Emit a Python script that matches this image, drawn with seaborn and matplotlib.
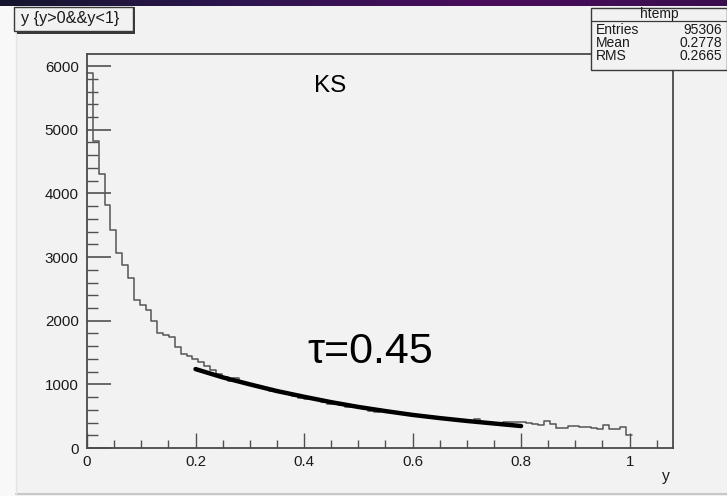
import numpy as np
import pandas as pd
import matplotlib
matplotlib.use("Agg")
import matplotlib.pyplot as plt
import seaborn as sns
from matplotlib.patches import Rectangle
from matplotlib.lines import Line2D
from matplotlib.colors import LinearSegmentedColormap
from matplotlib import font_manager

# ---------------- data ----------------
bin_width = 0.0108
counts = [5890, 4830, 4300, 3820, 3430, 3060, 2880, 2670, 2330, 2250,
          2170, 1990, 1800, 1775, 1750, 1590, 1475, 1445, 1400, 1355,
          1290, 1225, 1160, 1120, 1045, 1105, 1040, 1010, 985, 960,
          935, 890, 880, 860, 845, 815, 790, 770, 780, 755,
          720, 690, 700, 680, 650, 655, 640, 615, 580, 570,
          585, 575, 560, 545, 530, 520, 505, 480, 495, 480,
          470, 455, 445, 440, 430, 425, 455, 410, 405, 400,
          395, 405, 410, 410, 405, 390, 375, 365, 429, 372,
          309, 312, 346, 346, 335, 335, 320, 293, 360, 293,
          295, 335, 204]
fit_x = [0.20, 0.25, 0.30, 0.35, 0.40, 0.45, 0.50, 0.55, 0.60, 0.65, 0.70, 0.75, 0.80]
fit_y = [1240, 1110, 1000, 895, 805, 720, 645, 580, 520, 470, 425, 385, 345]
y_ticks = [0, 1000, 2000, 3000, 4000, 5000, 6000]
x_ticks = [0, 0.2, 0.4, 0.6, 0.8, 1.0]
x_tick_labels = ["0", "0.2", "0.4", "0.6", "0.8", "1"]
title_text = "y {y>0&&y<1}"
stats_name = "htemp"
stats_rows = [("Entries", "95306"), ("Mean", "0.2778"), ("RMS", "0.2665")]
label_ks = "KS"
label_tau = "τ=0.45"

n = len(counts)
edges = np.arange(n + 1) * bin_width
centers = (edges[:-1] + edges[1:]) / 2
df = pd.DataFrame({"y": centers, "w": counts})
fit_df = pd.DataFrame({"x": fit_x, "f": fit_y})

# ---------------- figure ----------------
sns.set_style("white")
plt.rcParams["font.family"] = ["Liberation Sans", "DejaVu Sans"]

installed = {f.name for f in font_manager.fontManager.ttflist}
narrow = "Liberation Sans Narrow" if "Liberation Sans Narrow" in installed else "Liberation Sans"
narrow_fam = [narrow, "DejaVu Sans"]
narrow_scale = 1.0 if narrow == "Liberation Sans Narrow" else 0.87

W, H = 727, 496
fig = plt.figure(figsize=(W / 100, H / 100), dpi=100)
fig.patch.set_facecolor("#f2f2f2")

def fx(px):
    return px / W

def fy(py):
    return 1 - py / H

# left margin strip and bottom line
fig.add_artist(Rectangle((0, 0), fx(16), 1, transform=fig.transFigure,
                         facecolor="#f8f8f8", edgecolor="none", zorder=0))
fig.add_artist(Line2D([fx(16), 1], [fy(494), fy(494)], transform=fig.transFigure,
                      color="#c8c8c8", lw=1.5, zorder=1))
fig.add_artist(Line2D([fx(16), fx(16)], [fy(8), fy(494)], transform=fig.transFigure,
                      color="#e4e4e4", lw=1.0, zorder=1))

# top gradient band
band = fig.add_axes([0, fy(6), 1, 6 / H])
grad = np.linspace(0, 1, 256)
cmap = LinearSegmentedColormap.from_list("band", ["#15152e", "#2e1650", "#4a0c5c", "#3a0e4e"])
band.imshow(grad[None, :], aspect="auto", cmap=cmap, extent=[0, 1, 0, 1])
band.set_axis_off()

ax = fig.add_axes([fx(87), fy(448), fx(673) - fx(87), fy(54) - fy(448)])
ax.set_facecolor("#f2f2f2")

sns.histplot(data=df, x="y", weights="w", binwidth=bin_width, binrange=(0, n * bin_width),
             element="step", fill=False, color="#555555", linewidth=1.1, ax=ax)
sns.lineplot(data=fit_df, x="x", y="f", color="black", linewidth=3.2, ax=ax)

ax.set_xlim(0, 1.08)
ax.set_ylim(0, 6190)
ax.set_xticks(x_ticks)
ax.set_xticklabels(x_tick_labels)
ax.set_yticks(y_ticks)
ax.set_yticklabels([str(v) for v in y_ticks])
ax.set_xticks(np.arange(0, 1.08, 0.05), minor=True)
ax.set_yticks(np.arange(0, 6190, 200), minor=True)
ax.tick_params(axis="y", which="major", direction="in", length=17, width=1.2,
               color="#505050", labelsize=12.5 * narrow_scale, pad=6, left=True)
ax.tick_params(axis="y", which="minor", direction="in", length=8, width=1.0,
               color="#505050", left=True)
ax.tick_params(axis="x", which="major", direction="in", length=11, width=1.0,
               color="#505050", labelsize=12.5 * narrow_scale, pad=5, bottom=True)
ax.tick_params(axis="x", which="minor", direction="in", length=6, width=1.0,
               color="#505050", bottom=True)
for s in ax.spines.values():
    s.set_color("#4a4a4a")
    s.set_linewidth(1.3)
ax.set_xlabel("")
ax.set_ylabel("")
for lab in ax.get_xticklabels() + ax.get_yticklabels():
    lab.set_color("#1a1a1a")
    lab.set_family(narrow_fam)

# axis title "y"
fig.text(fx(666), fy(477), "y", fontsize=13 * narrow_scale, family=narrow_fam,
         ha="center", va="center", color="#1a1a1a")

# annotations
fig.text(fx(330), fy(86), label_ks, fontsize=17.5, ha="center", va="center", color="black")
fig.text(fx(370), fy(352), label_tau, fontsize=31, ha="center", va="center", color="black")

# title box with shadow
fig.add_artist(Rectangle((fx(17), fy(34)), fx(118), 27 / H, transform=fig.transFigure,
                         facecolor="#3a3a3a", edgecolor="none", zorder=3))
fig.add_artist(Rectangle((fx(14), fy(31)), fx(119), 24 / H, transform=fig.transFigure,
                         facecolor="#f2f2f2", edgecolor="#3a3a3a", lw=1.0, zorder=4))
fig.text(fx(21), fy(19), title_text, fontsize=13.5 * narrow_scale, family=narrow_fam,
         ha="left", va="center", color="#1a1a1a", zorder=5)

# stats box
fig.add_artist(Rectangle((fx(591), fy(70)), fx(727) - fx(591), 62 / H, transform=fig.transFigure,
                         facecolor="#f2f2f2", edgecolor="#3a3a3a", lw=1.0, zorder=4))
fig.add_artist(Line2D([fx(591), 1], [fy(21), fy(21)], transform=fig.transFigure,
                      color="#3a3a3a", lw=0.9, zorder=5))
fig.text(fx(659), fy(14), stats_name, fontsize=11.5 * narrow_scale, family=narrow_fam,
         ha="center", va="center", color="#1a1a1a", zorder=6)
for i, (k, v) in enumerate(stats_rows):
    yy = 30 + i * 13
    fig.text(fx(596), fy(yy), k, fontsize=11.5 * narrow_scale, family=narrow_fam,
             ha="left", va="center", color="#1a1a1a", zorder=6)
    fig.text(fx(722), fy(yy), v, fontsize=11.5 * narrow_scale, family=narrow_fam,
             ha="right", va="center", color="#1a1a1a", zorder=6)

fig.savefig("out.png", dpi=100, facecolor=fig.get_facecolor())
